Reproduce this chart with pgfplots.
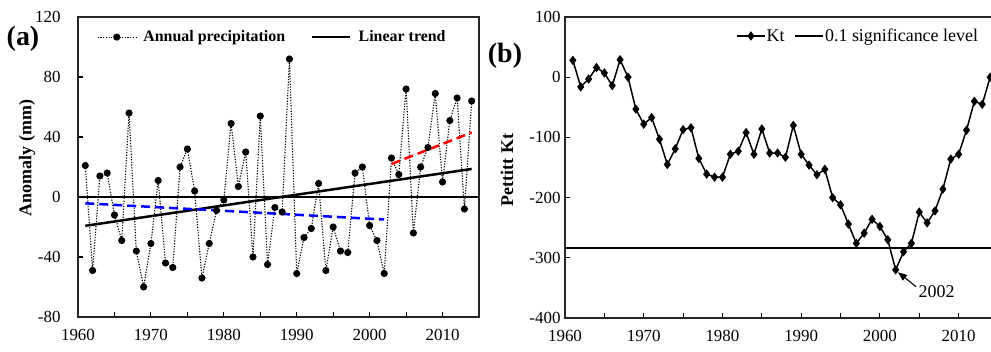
\documentclass[border=0pt]{standalone}
\usepackage{pgfplots}
\pgfplotsset{compat=1.18}
\usepackage{pgfplotstable}
\usepackage{fontspec}
\setmainfont{Liberation Serif}
\usetikzlibrary{arrows.meta}

\pgfplotstableread{
year val
1961 21
1962 -49
1963 14
1964 16
1965 -12
1966 -29
1967 56
1968 -36
1969 -60
1970 -31
1971 11
1972 -44
1973 -47
1974 20
1975 32
1976 4
1977 -54
1978 -31
1979 -9
1980 -2
1981 49
1982 7
1983 30
1984 -40
1985 54
1986 -45
1987 -7
1988 -10
1989 92
1990 -51
1991 -27
1992 -21
1993 9
1994 -49
1995 -20
1996 -36
1997 -37
1998 16
1999 20
2000 -19
2001 -29
2002 -51
2003 26
2004 15
2005 72
2006 -24
2007 20
2008 33
2009 69
2010 10
2011 51
2012 66
2013 -8
2014 64
}\precip

\pgfplotstableread{
year kt
1961 28
1962 -16
1963 -3
1964 16
1965 7
1966 -14
1967 29
1968 0
1969 -53
1970 -78
1971 -67
1972 -103
1973 -145
1974 -119
1975 -87
1976 -84
1977 -135
1978 -161
1979 -166
1980 -166
1981 -128
1982 -123
1983 -92
1984 -128
1985 -86
1986 -126
1987 -126
1988 -133
1989 -80
1990 -128
1991 -146
1992 -162
1993 -153
1994 -200
1995 -212
1996 -244
1997 -276
1998 -259
1999 -236
2000 -248
2001 -270
2002 -320
2003 -290
2004 -276
2005 -224
2006 -242
2007 -222
2008 -186
2009 -136
2010 -128
2011 -88
2012 -40
2013 -45
2014 0
}\pettitt

\pgfplotsset{
  common/.style={
    anchor=south west, scale only axis,
    xmin=1960, xmax=2015,
    xtick={1960,1970,...,2010}, minor xtick={1965,1975,...,2015},
    tick pos=left, tick align=inside,
    major tick length=5bp, minor tick length=5bp,
    every tick/.style={black, line width=1.1bp},
    axis line style={line width=1.5bp, black!85},
    /pgf/number format/assume math mode=true,
    /pgf/number format/1000 sep={},
    ticklabel style={font=\fontsize{17}{20}\selectfont},
    ylabel style={font=\fontsize{18}{21}\selectfont\bfseries, anchor=center},
  }
}

\begin{document}
\begin{tikzpicture}
% ---------------- panel (a)
\begin{axis}[common,
  at={(78bp,-317bp)}, width=401bp, height=300bp,
  ymin=-80, ymax=120, ytick={-80,-40,...,120},
  xticklabel style={yshift=-9bp},
  yticklabel style={xshift=-14bp},
  ylabel={Anomaly (mm)},
  ylabel style={at={(axis description cs:-0.127,0.53)}},
  legend columns=2,
  legend style={at={(axis description cs:0.04,0.933)}, anchor=west,
    draw=none, fill=none, font=\fontsize{16}{19}\selectfont\bfseries,
    /tikz/every odd column/.append style={column sep=5bp},
    /tikz/every even column/.append style={column sep=24bp}},
  legend image code/.code={\draw[mark repeat=2,mark phase=2,#1] plot coordinates {(0bp,0bp) (19bp,0bp) (38bp,0bp)};},
]
\addlegendimage{black, line width=1.1bp, dash pattern=on 1.2bp off 1.5bp, mark=*, mark size=3bp, mark options={solid}}
\addlegendentry{Annual precipitation}
\addlegendimage{black, line width=2.5bp}
\addlegendentry{Linear trend}
\addplot[forget plot, black, line width=1.3bp] coordinates {(1960,0) (2015,0)};
\addplot[forget plot, black, line width=1.1bp, dash pattern=on 1.2bp off 1.5bp, mark=*, mark size=3bp, mark options={solid}] table[x=year, y=val] {\precip};
\addplot[forget plot, black, line width=2.5bp] coordinates {(1961,-19.2) (2014,18.7)};
\addplot[forget plot, blue, line width=2.5bp, dash pattern=on 9bp off 5bp] coordinates {(1961,-4.2) (2002,-15)};
\addplot[forget plot, red, line width=2.5bp, dash pattern=on 9bp off 5bp] coordinates {(2003,22) (2014,43)};
\end{axis}
\node[font=\fontsize{28}{32}\selectfont\bfseries] at (23bp,-39bp) {(a)};

% ---------------- panel (b)
\begin{axis}[common,
  at={(565bp,-318bp)}, width=433bp, height=301bp,
  ymin=-400, ymax=100, ytick={-400,-300,...,100},
  xticklabel style={yshift=-9bp},
  yticklabel style={xshift=-1bp},
  ylabel={Pettitt Kt},
  ylabel style={at={(axis description cs:-0.134,0.492)}},
  legend columns=2,
  legend style={at={(axis description cs:0.388,0.937)}, anchor=west,
    draw=none, fill=none, font=\fontsize{18}{21}\selectfont,
    nodes={inner sep=1pt},
    /tikz/every odd column/.append style={column sep=0bp},
    /tikz/every even column/.append style={column sep=9bp}},
  legend image code/.code={\draw[mark repeat=2,mark phase=2,#1] plot coordinates {(0bp,0bp) (14bp,0bp) (28bp,0bp)};},
]
\addplot[black, line width=1.5bp, mark=diamond*, mark size=3.5bp] table[x=year, y=kt] {\pettitt};
\addlegendentry{Kt}
\addplot[black, line width=1.5bp] coordinates {(1960,-284) (2015,-284)};
\addlegendentry{0.1 significance level}
\draw[line width=1.1bp, -{Triangle[length=9bp,width=7bp]}] (axis cs:2004.6,-348) -- (axis cs:2002.3,-324);
\node[font=\fontsize{18}{21}\selectfont] at (axis cs:2007.2,-357) {2002};
\end{axis}
\node[font=\fontsize{28}{32}\selectfont\bfseries] at (505bp,-56bp) {(b)};

\pgfresetboundingbox
\path (0bp,0bp) rectangle (991bp,-352bp);
\end{tikzpicture}
\end{document}
